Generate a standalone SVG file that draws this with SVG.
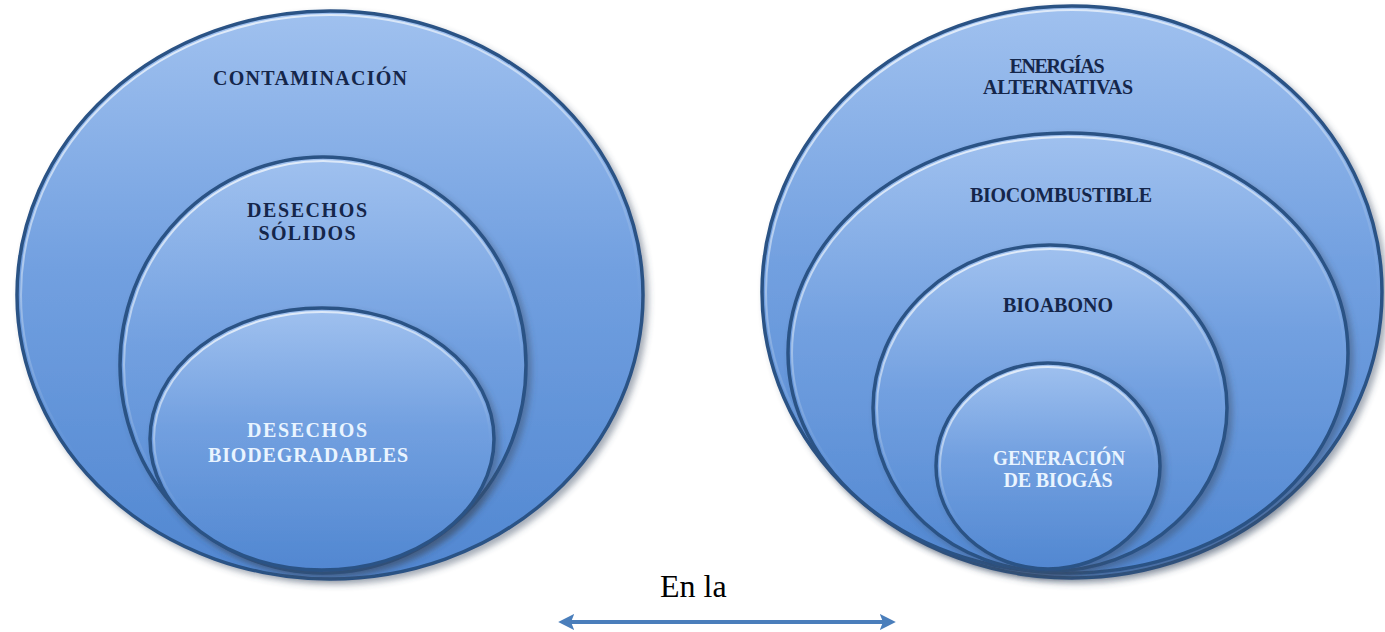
<svg xmlns="http://www.w3.org/2000/svg" width="1385" height="632" viewBox="0 0 1385 632">
<style>
.rim{fill:url(#fillG);stroke:#2b5285;stroke-width:3.5;filter:url(#sh)}
.hl{fill:none;stroke:url(#hlG);stroke-width:2}
.dk{font-family:"Liberation Serif","Times New Roman",serif;font-weight:bold;font-size:20px;fill:#15264a;text-anchor:middle}
.lt{font-family:"Liberation Serif","Times New Roman",serif;font-weight:bold;font-size:20px;fill:#e9f4ff;text-anchor:middle}
.conn{stroke:#4a7ebb;stroke-width:4;fill:none}
</style>
<defs>
<linearGradient id="fillG" x1="0" y1="0" x2="0" y2="1">
<stop offset="0" stop-color="#a0c1ef"/>
<stop offset="0.45" stop-color="#72a0e0"/>
<stop offset="1" stop-color="#5187d1"/>
</linearGradient>
<linearGradient id="hlG" x1="0" y1="0" x2="0.3" y2="1">
<stop offset="0" stop-color="#f2f7fd" stop-opacity="0.95"/>
<stop offset="0.4" stop-color="#dbe8f7" stop-opacity="0.6"/>
<stop offset="0.75" stop-color="#9dbbe2" stop-opacity="0"/>
</linearGradient>
<filter id="sh" x="-10%" y="-10%" width="125%" height="125%">
<feDropShadow dx="4" dy="4" stdDeviation="3" flood-color="#3a4a60" flood-opacity="0.45"/>
</filter>
<marker id="ah" viewBox="0 0 10 10" refX="2" refY="5" markerWidth="4" markerHeight="4" orient="auto-start-reverse" markerUnits="strokeWidth">
<path d="M0,0 L10,5 L0,10 L2,5 Z" fill="#4a7ebb"/>
</marker>
</defs>
<rect width="1385" height="632" fill="#ffffff"/>

<g id="contaminacion">
<ellipse class="rim" cx="330" cy="295" rx="313" ry="284"/>
<ellipse class="hl" cx="330" cy="295" rx="309" ry="280"/>
<text class="dk" x="310" y="85" textLength="194" lengthAdjust="spacing">CONTAMINACIÓN</text>
</g>
<g id="desechos-solidos">
<ellipse class="rim" cx="323" cy="365" rx="203" ry="208"/>
<ellipse class="hl" cx="323" cy="365" rx="199" ry="204"/>
<text class="dk" x="307" y="217" textLength="120" lengthAdjust="spacing">DESECHOS</text>
<text class="dk" x="307" y="240" textLength="97" lengthAdjust="spacing">SÓLIDOS</text>
</g>
<g id="desechos-biodegradables">
<ellipse class="rim" cx="322" cy="439" rx="172" ry="131"/>
<ellipse class="hl" cx="322" cy="439" rx="168" ry="127"/>
<text class="lt" x="307" y="437" textLength="120" lengthAdjust="spacing">DESECHOS</text>
<text class="lt" x="308" y="462" textLength="200" lengthAdjust="spacing">BIODEGRADABLES</text>
</g>

<g id="energias-alternativas">
<ellipse class="rim" cx="1072" cy="292" rx="310" ry="286"/>
<ellipse class="hl" cx="1072" cy="292" rx="306" ry="282"/>
<text class="dk" x="1057" y="73" textLength="95" lengthAdjust="spacing">ENERGÍAS</text>
<text class="dk" x="1058" y="94" textLength="150" lengthAdjust="spacing">ALTERNATIVAS</text>
</g>
<g id="biocombustible">
<ellipse class="rim" cx="1068" cy="353" rx="280" ry="220"/>
<ellipse class="hl" cx="1068" cy="353" rx="276" ry="216"/>
<text class="dk" x="1061" y="202" textLength="182" lengthAdjust="spacing">BIOCOMBUSTIBLE</text>
</g>
<g id="bioabono">
<ellipse class="rim" cx="1050" cy="408" rx="177" ry="163"/>
<ellipse class="hl" cx="1050" cy="408" rx="173" ry="159"/>
<text class="dk" x="1058" y="312" textLength="110" lengthAdjust="spacing">BIOABONO</text>
</g>
<g id="generacion-biogas">
<ellipse class="rim" cx="1048" cy="466" rx="112" ry="103"/>
<ellipse class="hl" cx="1048" cy="466" rx="108" ry="99"/>
<text class="lt" x="1059" y="465" textLength="132" lengthAdjust="spacingAndGlyphs">GENERACIÓN</text>
<text class="lt" x="1058" y="487" textLength="109" lengthAdjust="spacing">DE BIOGÁS</text>
</g>

<g id="connectors">
<text x="660" y="597" font-family="Liberation Serif, Times New Roman, serif" font-size="32" fill="#000000">En la</text>
<line class="conn" x1="571" y1="622" x2="883" y2="622" marker-start="url(#ah)" marker-end="url(#ah)"/>
</g>
</svg>
